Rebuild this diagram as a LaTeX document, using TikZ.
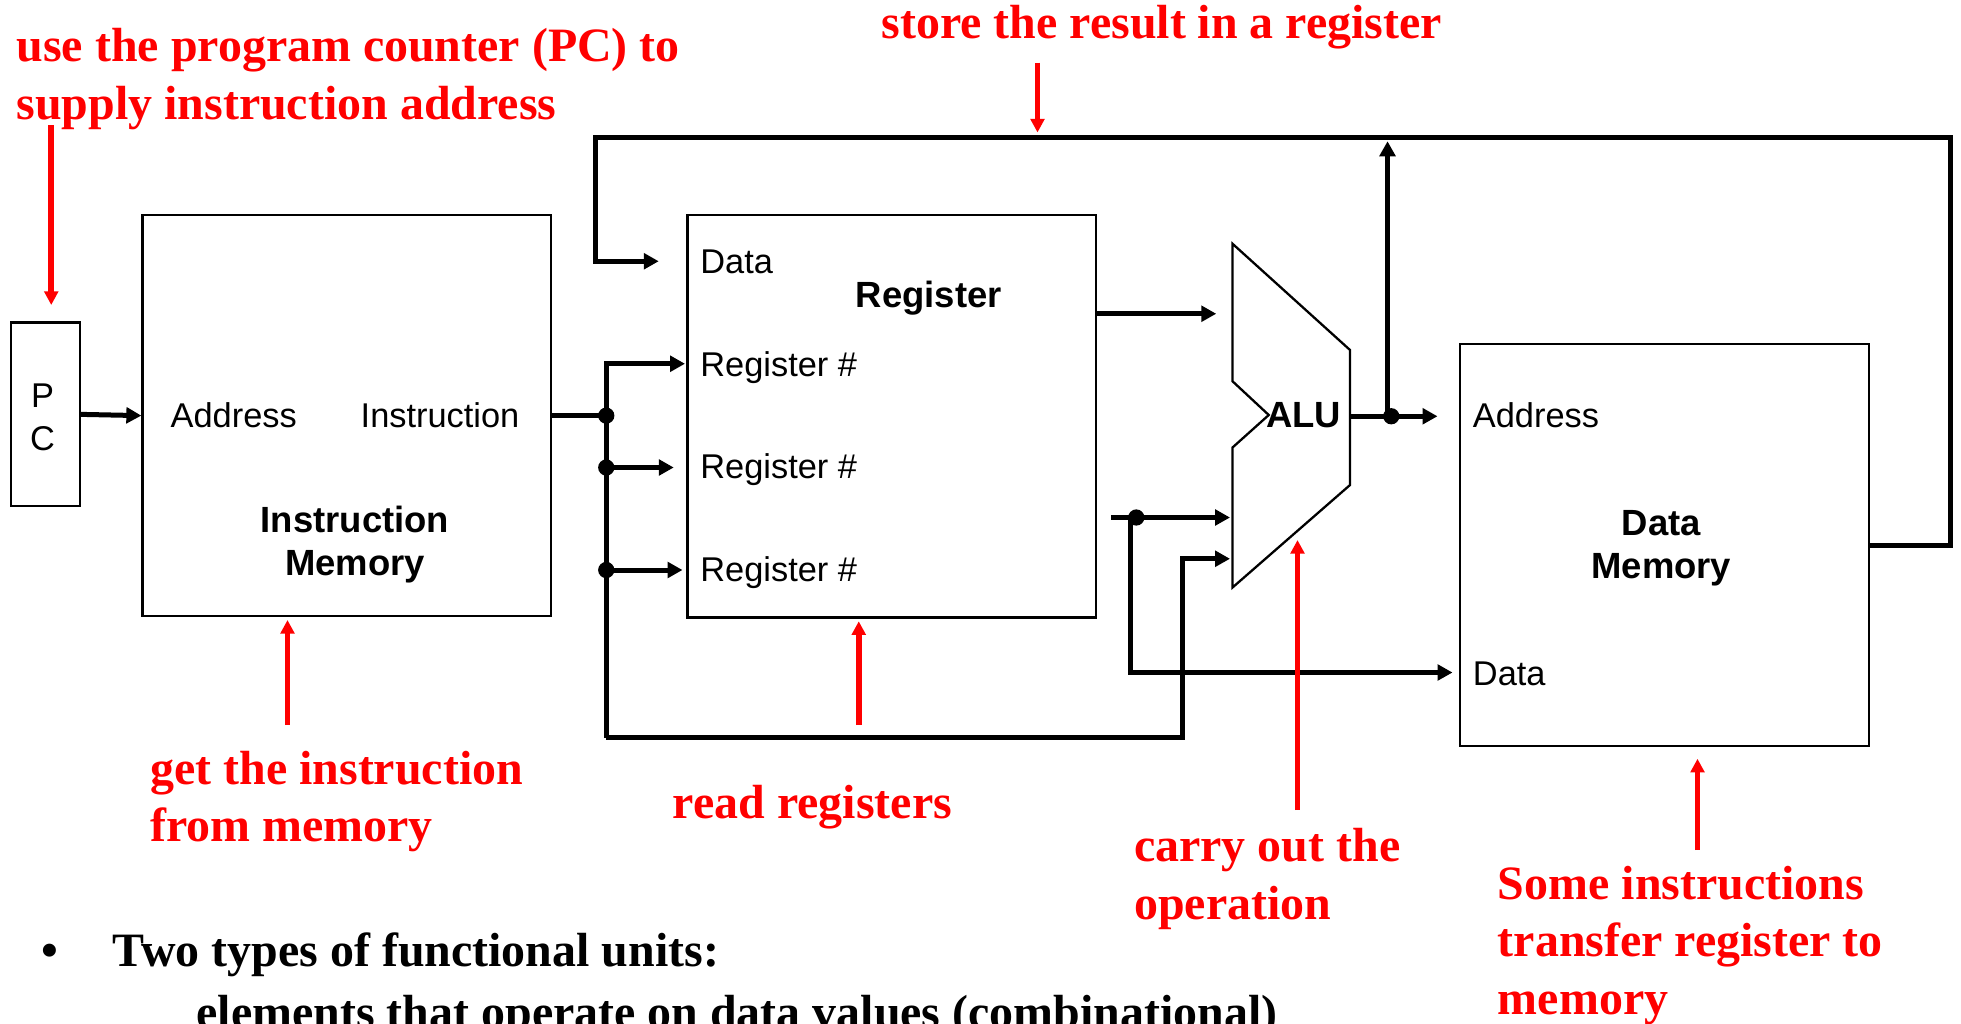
\documentclass[tikz,border=0pt]{standalone}
\usepackage{fontspec}
\setmainfont{Liberation Serif}
\setsansfont{Liberation Sans}
\usetikzlibrary{arrows.meta}
\begin{document}
\begin{tikzpicture}[x=0.6pt,y=-0.6pt,
  box/.style={draw, line width=1.1pt, inner sep=0pt},
  bus/.style={line width=2.4pt},
  barrow/.style={bus, -{Triangle[length=7.2pt,width=7.5pt]}},
  rarrow/.style={draw=red, line width=2.7pt, -{Triangle[length=6.5pt,width=6.5pt]}},
  dot/.style={circle, fill, inner sep=0pt, minimum size=7.8pt},
  lab/.style={font=\sffamily\fontsize{16.5}{19}\selectfont, inner sep=0pt},
  blab/.style={font=\sffamily\bfseries\fontsize{17.5}{21}\selectfont, inner sep=0pt, align=center},
  note/.style={text=red, font=\bfseries\fontsize{23}{27.6}\selectfont, inner sep=0pt, align=left},
  body/.style={font=\bfseries\fontsize{23}{27.6}\selectfont, inner sep=0pt}
]
\useasboundingbox (0,0) rectangle (1568.8,818.4);
\clip (0,0) rectangle (1568.8,818.4);

% boxes
\node[box, minimum width=33pt, minimum height=88.2pt] (pc) at (36.5,331.5) {};
\node[lab, anchor=base] (pcP) at (34,326) {P};
\node[lab, anchor=base] (pcC) at (34,360) {C};

\node[box, minimum width=196.2pt, minimum height=192.6pt] (im) at (277.5,332.5) {};
\node[lab, anchor=base] (imA) at (187,342) {Address};
\node[lab, anchor=base] (imI) at (352,342) {Instruction};
\node[blab, anchor=base] (imT) at (284,426) {Instruction};
\node[blab, anchor=base] (imM) at (284,460) {Memory};

\node[box, minimum width=196.2pt, minimum height=193.2pt] (reg) at (713.5,333) {};
\node[lab, anchor=base west] (regD) at (560,219) {Data};
\node[blab, anchor=base] (regT) at (743,246) {Register};
\node[lab, anchor=base west] (regR1) at (560,301) {Register \#};
\node[lab, anchor=base west] (regR2) at (560,383) {Register \#};
\node[lab, anchor=base west] (regR3) at (560,465) {Register \#};

\node[box, minimum width=196.2pt, minimum height=193.2pt] (dm) at (1331.5,436) {};
\node[lab, anchor=base west] (dmA) at (1178,342) {Address};
\node[blab, anchor=base] (dmT) at (1329,428) {Data};
\node[blab, anchor=base] (dmM) at (1329,463) {Memory};
\node[lab, anchor=base west] (dmD) at (1178,548) {Data};

% ALU
\draw[line width=1.1pt] (986,195) -- (986,305) -- (1015,332) -- (986,358) -- (986,470) -- (1080,388) -- (1080,280) -- cycle;
\node[blab, anchor=base] (alu) at (1043,342) {ALU};

% junction coordinates
\coordinate (j1) at (485,332.5);
\coordinate (bt) at (485,291);
\coordinate (bb) at (485,590);
\coordinate (j2) at (485,374);
\coordinate (j3) at (485,456);
\coordinate (r1in) at (548,291);
\coordinate (r2in) at (539,374);
\coordinate (r3in) at (546,456);
\coordinate (b1) at (946,590);
\coordinate (b2) at (946,447);
\coordinate (aluB) at (984,447);
\coordinate (regO) at (877,251);
\coordinate (aluA) at (973,251);
\coordinate (l0) at (889,414);
\coordinate (l1) at (984,414);
\coordinate (ld) at (909,414);
\coordinate (lv) at (904,414);
\coordinate (lv2) at (904,538);
\coordinate (dmDin) at (1162,538);
\coordinate (aluO) at (1080,333);
\coordinate (dmAin) at (1150,333);
\coordinate (ad) at (1113,333);
\coordinate (av) at (1110,333);
\coordinate (avt) at (1110,113);
\coordinate (f0) at (1495,436);
\coordinate (f1) at (1560,436);
\coordinate (f2) at (1560,110);
\coordinate (f3) at (476,110);
\coordinate (f4) at (476,209);
\coordinate (regDin) at (527,209);

% connectors
\draw[barrow] (pc.east) -- (im.west);
\draw[bus] (im.east) -- (j1);
\draw[barrow] (bb) -- (bt) -- (r1in);
\draw[barrow] (j2) -- (r2in);
\draw[barrow] (j3) -- (r3in);
\draw[barrow] (bb) -- (b1) -- (b2) -- (aluB);
\draw[barrow] (regO) -- (aluA);
\draw[barrow] (l0) -- (l1);
\draw[barrow] (lv) -- (lv2) -- (dmDin);
\draw[barrow] (aluO) -- (dmAin);
\draw[barrow] (av) -- (avt);
\draw[barrow] (f0) -- (f1) -- (f2) -- (f3) -- (f4) -- (regDin);
\foreach \p in {j1,j2,j3,ld,ad} \node[dot] at (\p) {};

% red annotations
\node[note, anchor=north west] (n1) at (13,17) {\strut use the program counter (PC) to\\supply instruction address};
\node[note, anchor=base west] (n2) at (705,31) {store the result in a register};
\node[note, anchor=north west] (n3) at (120,595) {\strut get the instruction\\from memory};
\node[note, anchor=base west] (n4) at (538,655) {read registers};
\node[note, anchor=north west] (n5) at (907,657) {\strut carry out the\\operation};
\node[note, anchor=north west] (n6) at (1198,687) {\strut Some instructions\\transfer register to\\memory};

\coordinate (a1s) at (41,100);  \coordinate (a1e) at (41,244);
\coordinate (a2s) at (830,50);  \coordinate (a2e) at (830,106);
\coordinate (a3s) at (230,580); \coordinate (a3e) at (230,496);
\coordinate (a4s) at (687,580); \coordinate (a4e) at (687,497);
\coordinate (a5s) at (1038,648); \coordinate (a5e) at (1038,432);
\coordinate (a6s) at (1358,680); \coordinate (a6e) at (1358,607);
\draw[rarrow] (a1s) -- (a1e);
\draw[rarrow] (a2s) -- (a2e);
\draw[rarrow] (a3s) -- (a3e);
\draw[rarrow] (a4s) -- (a4e);
\draw[rarrow] (a5s) -- (a5e);
\draw[rarrow] (a6s) -- (a6e);

% bullet text
\node[body, anchor=base west] (bul) at (33,773) {•};
\node[body, anchor=base west] (b1t) at (90,773) {Two types of functional units:};
\node[body, anchor=base west] (b2t) at (157,823) {elements that operate on data values (combinational)};
\end{tikzpicture}
\end{document}
